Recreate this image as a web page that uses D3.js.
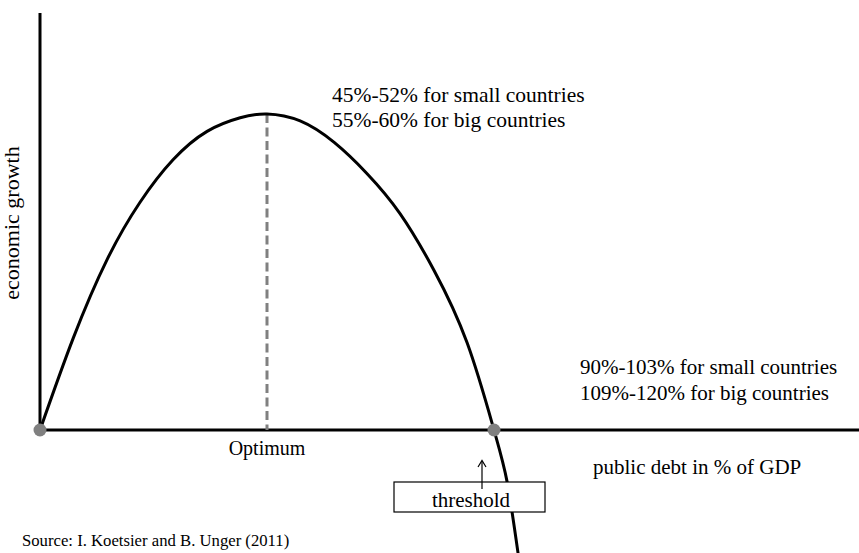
<!DOCTYPE html>
<html><head><meta charset="utf-8">
<script src="https://cdn.jsdelivr.net/npm/d3@7"></script>
<style>
body{margin:0;background:#fff}
</style>
</head><body>
<svg id="c" width="859" height="553" font-family="'Liberation Serif', Tinos, 'Times New Roman', Times, 'DejaVu Serif', serif"></svg>
<script>
// curve: public debt (index, optimum = 50, threshold = 100) vs economic growth (index, peak = 10)
const debt   = [0, 7.3, 14.8, 22.0, 29.3, 36.8, 44.1, 50, 57.3, 64.8, 72.0, 79.3, 86.8, 94.1, 100, 102.9, 105.3];
const growth = [0, 2.9, 5.4, 7.2, 8.55, 9.45, 9.88, 10, 9.78, 9.1, 8.12, 6.85, 5.05, 2.75, 0, -1.65, -3.9];
const optimumDebt = 50;
const thresholdDebt = 100;
const optimumLabels = ["45%-52% for small countries", "55%-60% for big countries"];
const thresholdLabels = ["90%-103% for small countries", "109%-120% for big countries"];
const xTitle = "public debt in % of GDP";
const yTitle = "economic growth";
const optimumText = "Optimum";
const thresholdText = "threshold";
const sourceText = "Source: I. Koetsier and B. Unger (2011)";

const W = 859, H = 553;
const svg = d3.select("#c");
const x = d3.scaleLinear().domain([0, 100]).range([40, 494]);
const y = d3.scaleLinear().domain([0, 10]).range([430, 114]);
const xEnd = x.invert(W), yTop = y.invert(13);

// axes
svg.append("line").attr("x1", x(0)).attr("x2", x(0)).attr("y1", y(yTop)).attr("y2", y(0))
  .attr("stroke", "#000").attr("stroke-width", 3);
svg.append("line").attr("x1", x(0)).attr("x2", x(xEnd)).attr("y1", y(0)).attr("y2", y(0))
  .attr("stroke", "#000").attr("stroke-width", 3);

// optimum dashed line
const peak = d3.max(growth);
svg.append("line").attr("x1", x(optimumDebt)).attr("x2", x(optimumDebt))
  .attr("y1", y(peak)).attr("y2", y(0))
  .attr("stroke", "#808080").attr("stroke-width", 3).attr("stroke-dasharray", "9,4.5");

// curve
const pts = debt.map((d, i) => [d, growth[i]]);
const line = d3.line().x(d => x(d[0])).y(d => y(d[1])).curve(d3.curveNatural);
svg.append("path").attr("d", line(pts)).attr("fill", "none")
  .attr("stroke", "#000").attr("stroke-width", 3);

// dots
svg.selectAll("circle.dot").data([0, thresholdDebt]).join("circle")
  .attr("class", "dot").attr("cx", d => x(d)).attr("cy", y(0)).attr("r", 6.5).attr("fill", "#808080");

// optimum annotations
svg.append("g").selectAll("text").data(optimumLabels).join("text")
  .attr("x", 332).attr("y", (d, i) => 102 + i * 25).attr("font-size", 21.5).text(d => d);
svg.append("text").attr("x", x(optimumDebt)).attr("y", 455).attr("text-anchor", "middle")
  .attr("font-size", 20).text(optimumText);

// threshold annotations
svg.append("g").selectAll("text").data(thresholdLabels).join("text")
  .attr("x", 580).attr("y", (d, i) => 374 + i * 26).attr("font-size", 21).text(d => d);

// threshold box
svg.append("rect").attr("x", 394).attr("y", 482).attr("width", 151).attr("height", 30)
  .attr("fill", "#fff").attr("stroke", "#000").attr("stroke-width", 1.2);
svg.append("text").attr("x", 471).attr("y", 507).attr("text-anchor", "middle")
  .attr("font-size", 21).text(thresholdText);
// arrow
svg.append("line").attr("x1", 482).attr("x2", 482).attr("y1", 489).attr("y2", 461)
  .attr("stroke", "#000").attr("stroke-width", 1.2);
svg.append("path").attr("d", "M478,467 L482,460.5 L486,467").attr("fill", "none")
  .attr("stroke", "#000").attr("stroke-width", 1.2);

// axis titles
svg.append("text").attr("x", 593).attr("y", 474).attr("font-size", 21).text(xTitle);
svg.append("text").attr("transform", "translate(19,223) rotate(-90)").attr("text-anchor", "middle")
  .attr("font-size", 22).text(yTitle);

// source
svg.append("text").attr("x", 22).attr("y", 546).attr("font-size", 16.7).text(sourceText);
</script>
</body></html>
